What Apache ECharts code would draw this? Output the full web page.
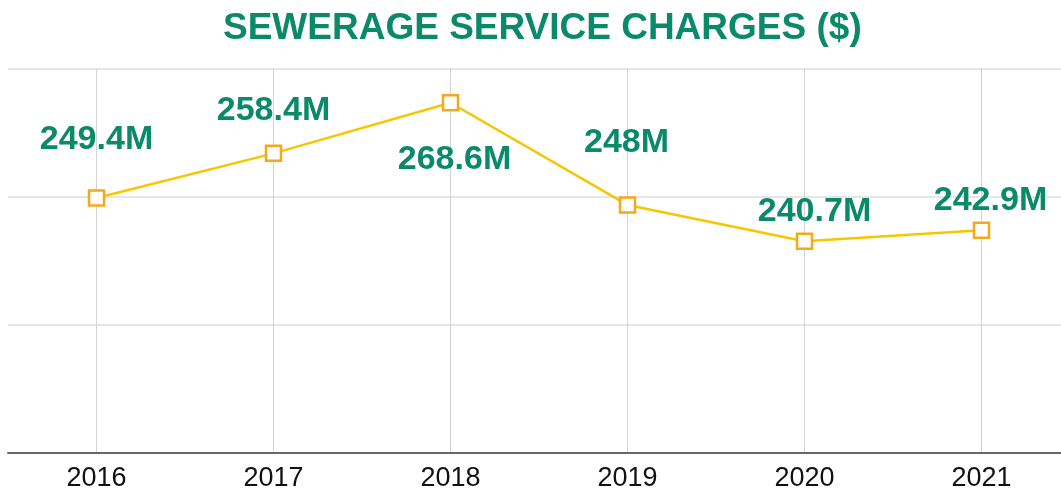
<!DOCTYPE html>
<html>
<head>
<meta charset="utf-8">
<script src="https://cdn.jsdelivr.net/npm/echarts@6/dist/echarts.min.js"></script>
<style>
  html, body { margin: 0; padding: 0; background: #fff; overflow: hidden; }
  /* 图表区域右侧略超出可视窗口 */
  #chart { width: 1070px; height: 492px; }
</style>
</head>
<body>
<div id="chart"></div>
<script>
// 图表数据
const years = ["2016", "2017", "2018", "2019", "2020", "2021"];
const charges = [249.4, 258.4, 268.6, 248, 240.7, 242.9]; // 百万美元
// 标签偏移（相对数据点）
const labelOffsets = [[0, -58], [0, -43], [4, 57], [-1, -62], [10, -30], [9, -30]];

const green = "#0a8a6a";
const font = "'Liberation Sans', Arial, Helvetica, sans-serif";

const chartDom = document.getElementById("chart");
const myChart = echarts.init(chartDom);

const option = {
  animation: false,
  title: {
    text: "SEWERAGE SERVICE CHARGES ($)",
    left: 218,
    top: 5,
    textStyle: {
      color: green,
      fontSize: 37,
      fontWeight: "bold",
      fontFamily: font,
    },
  },
  grid: {
    left: 8,
    right: 0,
    top: 69,
    bottom: 39,
    containLabel: false,
  },
  xAxis: {
    type: "category",
    data: years,
    boundaryGap: true,
    axisLine: {
      lineStyle: { color: "#666", width: 2 },
    },
    axisTick: { show: false },
    axisLabel: {
      color: "#111",
      fontSize: 27,
      fontFamily: font,
      margin: 12,
    },
    splitLine: {
      show: true,
      alignWithLabel: true,
      lineStyle: { color: "#d4d4d4", width: 1 },
    },
  },
  yAxis: {
    type: "value",
    min: 198,
    max: 275.4,
    interval: 25.8,
    axisLabel: { show: false },
    axisLine: { show: false },
    axisTick: { show: false },
    splitLine: {
      lineStyle: { color: "#dedede", width: 1.5 },
    },
  },
  series: [
    {
      type: "line",
      data: charges.map((v, i) => ({
        value: v,
        label: { offset: labelOffsets[i] },
      })),
      symbol: "rect",
      symbolSize: 15,
      showAllSymbol: true,
      lineStyle: { color: "#f7c600", width: 2.5 },
      itemStyle: {
        color: "#fff",
        borderColor: "#f5a81c",
        borderWidth: 2.5,
      },
      label: {
        show: true,
        position: "inside",
        formatter: (p) => p.value + "M",
        color: green,
        fontSize: 34,
        fontWeight: "bold",
        fontFamily: font,
      },
      z: 3,
    },
  ],
};

option && myChart.setOption(option);
window.onresize = () => {
  myChart.resize();
};
</script>
</body>
</html>
